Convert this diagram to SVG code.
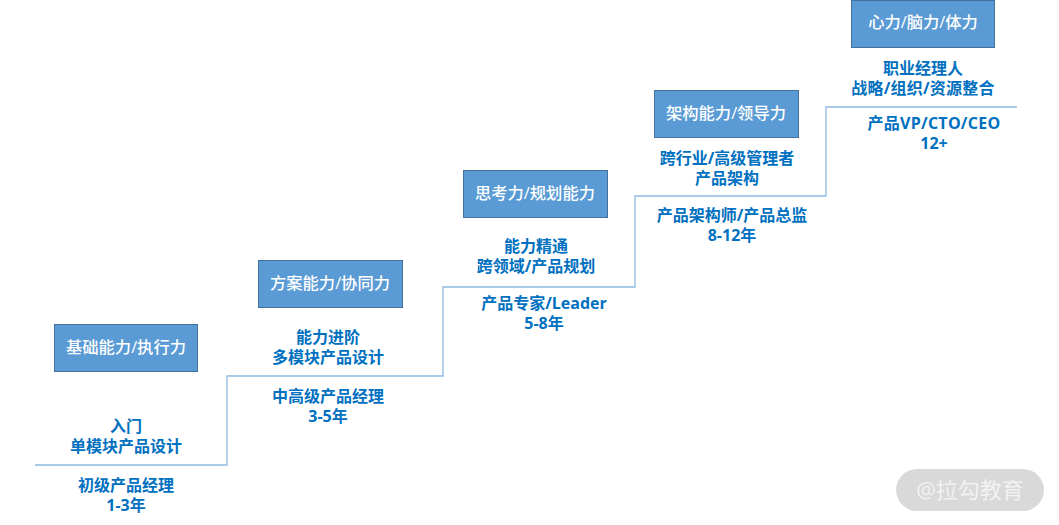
<svg xmlns="http://www.w3.org/2000/svg" width="1059" height="525" viewBox="0 0 1059 525">
<style>
text{font-family:"Open Sans","Noto Sans CJK SC",sans-serif;text-anchor:middle}
.b rect{fill:#5b9bd5;stroke:#41719c;stroke-width:1}
.b text{fill:#fff;font-size:16.3px;font-weight:500}
.t{fill:#0070c0;font-size:16px;font-weight:700}
.s{letter-spacing:.25px}
.c{fill:none;stroke:#8fb9e2;stroke-width:1.3}
</style>
<rect width="1059" height="525" fill="#fff"/>
<g id="connectors">
<path class="c" d="M35 465H227V376H443V287H635V196H826V107H1017"/>
</g>
<g id="node1" class="b"><rect x="54.500" y="324.500" width="143" height="47"/><text x="126" y="353">基础能力/执行力</text></g>
<g id="node2" class="b"><rect x="258.500" y="260.500" width="144" height="47"/><text x="330" y="289">方案能力/协同力</text></g>
<g id="node3" class="b"><rect x="463.500" y="170.500" width="144" height="47"/><text x="535" y="199">思考力/规划能力</text></g>
<g id="node4" class="b"><rect x="654.500" y="90.500" width="144" height="47"/><text x="726" y="119">架构能力/领导力</text></g>
<g id="node5" class="b"><rect x="851.500" y="0.500" width="143" height="47"/><text x="923" y="28">心力/脑力/体力</text></g>
<g id="label1"><text class="t" x="126" y="432">入门</text><text class="t" x="126" y="452">单模块产品设计</text><text class="t" x="126" y="491">初级产品经理</text><text class="t" x="126" y="511">1-3年</text></g>
<g id="label2"><text class="t" x="328" y="343">能力进阶</text><text class="t" x="328" y="363">多模块产品设计</text><text class="t" x="328" y="402">中高级产品经理</text><text class="t" x="328" y="422">3-5年</text></g>
<g id="label3"><text class="t" x="536" y="252">能力精通</text><text class="t" x="536" y="272">跨领域/产品规划</text><text class="t" x="544" y="309">产品专家/Leader</text><text class="t" x="544" y="329">5-8年</text></g>
<g id="label4"><text class="t" x="727" y="164">跨行业/高级管理者</text><text class="t" x="727" y="184">产品架构</text><text class="t" x="732" y="221">产品架构师/产品总监</text><text class="t" x="732" y="241">8-12年</text></g>
<g id="label5"><text class="t" x="923" y="74">职业经理人</text><text class="t s" x="923" y="94">战略/组织/资源整合</text><text class="t s" x="934" y="129">产品VP/CTO/CEO</text><text class="t" x="934" y="149">12+</text></g>
<g id="watermark"><rect x="896" y="469" width="148" height="42" rx="21" fill="#d9d9d9"/><text x="970" y="498" fill="#f2f2f2" font-size="22">@拉勾教育</text></g>
</svg>
